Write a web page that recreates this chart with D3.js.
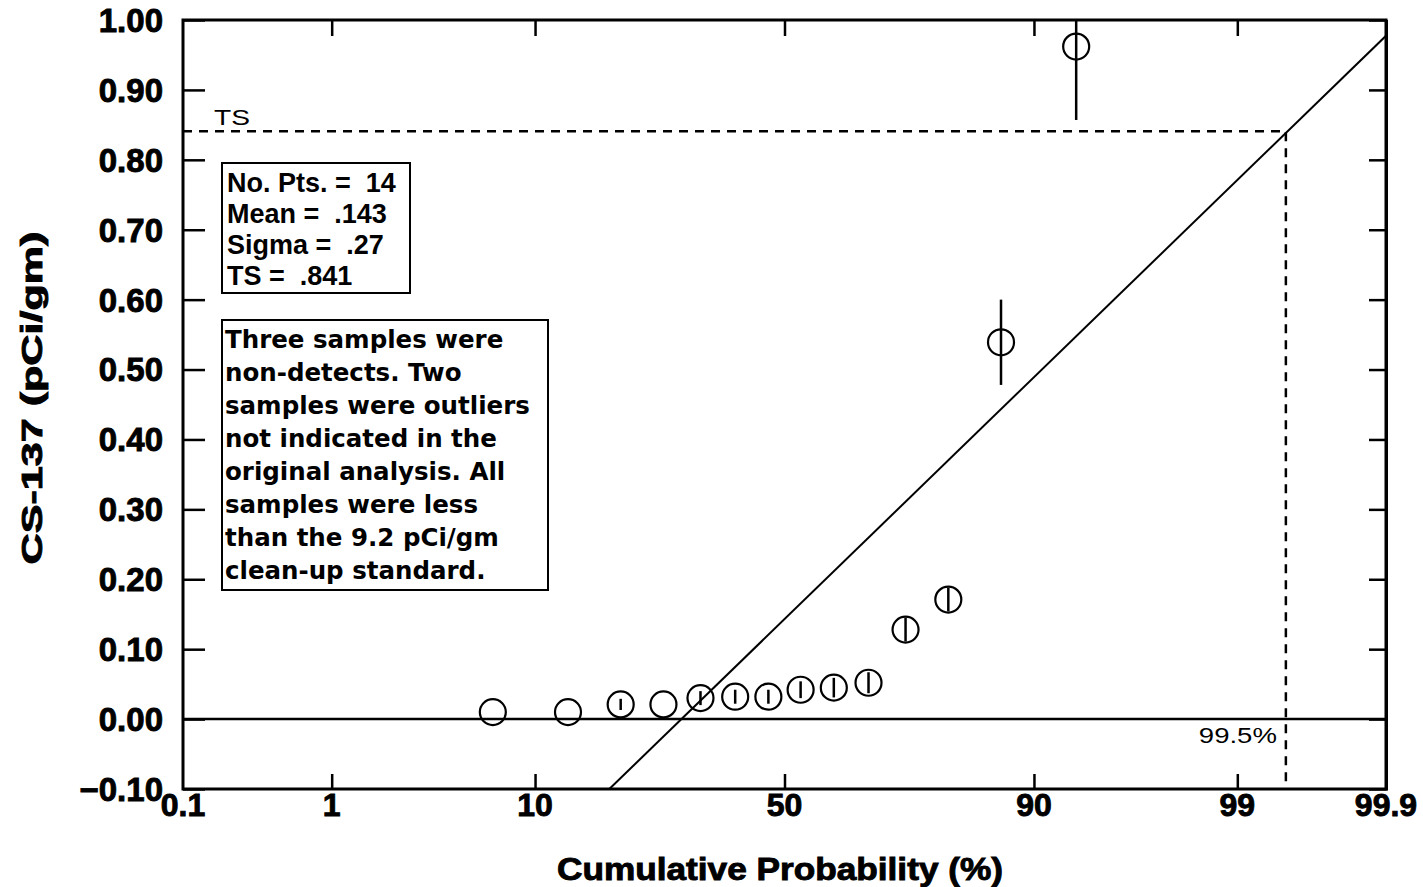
<!DOCTYPE html>
<html>
<head>
<meta charset="utf-8">
<script src="https://cdn.jsdelivr.net/npm/d3@7"></script>
<style>
  body { margin: 0; background: #fff; }
  svg { display: block; }
  text { font-family: "Liberation Sans", Arial, sans-serif; fill: #000; white-space: pre; }
  .heavy { stroke: #000; stroke-width: 0.9px; }
  .boxtext { font-family: "DejaVu Sans", sans-serif; font-weight: bold; }
</style>
</head>
<body>
<svg width="1423" height="887"></svg>
<script>
// cumulative probability (%) of each ranked sample
var probs  = [6.7, 13.3, 20.0, 26.7, 33.3, 40.0, 46.7, 53.3, 60.0, 66.7, 73.3, 80.0, 86.7, 93.3];
// CS-137 concentration (pCi/gm)
var values = [0.010, 0.010, 0.021, 0.021, 0.030, 0.032, 0.032, 0.042, 0.045, 0.052, 0.128, 0.171, 0.539, 0.962];
// counting error (+/-)
var errors = [0, 0, 0.008, 0, 0.010, 0.010, 0.010, 0.012, 0.014, 0.015, 0.017, 0.017, 0.061, 0.105];

var xTicks = [0.1, 1, 10, 50, 90, 99, 99.9];
var yTicks = [-0.1, 0, 0.1, 0.2, 0.3, 0.4, 0.5, 0.6, 0.7, 0.8, 0.9, 1.0];

var fitMean = 0.143, fitSigma = 0.27;
var tsValue = 0.841, tsProb = 99.5;

var statsLines = ["No. Pts. =  14", "Mean =  .143", "Sigma =  .27", "TS =  .841"];
var noteLines = ["Three samples were", "non-detects. Two", "samples were outliers",
                 "not indicated in the", "original analysis. All", "samples were less",
                 "than the 9.2 pCi/gm", "clean-up standard."];

// inverse normal cdf (Acklam)
function probit(p) {
  var a = [-3.969683028665376e+01, 2.209460984245205e+02, -2.759285104469687e+02,
           1.383577518672690e+02, -3.066479806614716e+01, 2.506628277459239e+00];
  var b = [-5.447609879822406e+01, 1.615858368580409e+02, -1.556989798598866e+02,
           6.680131188771972e+01, -1.328068155288572e+01];
  var c = [-7.784894002430293e-03, -3.223964580411365e-01, -2.400758277161838e+00,
           -2.549732539343734e+00, 4.374664141464968e+00, 2.938163982698783e+00];
  var d = [7.784695709041462e-03, 3.224671290700398e-01, 2.445134137142996e+00,
           3.754408661907416e+00];
  var pl = 0.02425, q, r;
  if (p < pl) {
    q = Math.sqrt(-2 * Math.log(p));
    return (((((c[0]*q+c[1])*q+c[2])*q+c[3])*q+c[4])*q+c[5]) / ((((d[0]*q+d[1])*q+d[2])*q+d[3])*q+1);
  } else if (p <= 1 - pl) {
    q = p - 0.5; r = q * q;
    return (((((a[0]*r+a[1])*r+a[2])*r+a[3])*r+a[4])*r+a[5])*q / (((((b[0]*r+b[1])*r+b[2])*r+b[3])*r+b[4])*r+1);
  } else {
    q = Math.sqrt(-2 * Math.log(1 - p));
    return -(((((c[0]*q+c[1])*q+c[2])*q+c[3])*q+c[4])*q+c[5]) / ((((d[0]*q+d[1])*q+d[2])*q+d[3])*q+1);
  }
}

var svg = d3.select("svg");
var plotL = 183, plotR = 1386, plotT = 20, plotB = 789;

var zScale = d3.scaleLinear()
    .domain([probit(0.001), probit(0.999)])
    .range([plotL, plotR]);
function x(pct) { return zScale(probit(pct / 100)); }

var y = d3.scaleLinear().domain([-0.1, 1.0]).range([plotB, plotT]);

svg.append("defs").append("clipPath").attr("id", "plot")
  .append("rect").attr("x", plotL).attr("y", plotT)
  .attr("width", plotR - plotL).attr("height", plotB - plotT);

// axes: ticks inside the frame on all four sides
svg.append("g").attr("transform", "translate(" + plotL + ",0)")
    .call(d3.axisRight(y).tickValues(yTicks).tickSize(22).tickFormat(""))
    .call(function(g) { g.select(".domain").remove(); })
    .selectAll("line").attr("stroke-width", 2.5);

svg.append("g").attr("transform", "translate(" + plotR + ",0)")
    .call(d3.axisLeft(y).tickValues(yTicks).tickSize(17).tickFormat(""))
    .call(function(g) { g.select(".domain").remove(); })
    .selectAll("line").attr("stroke-width", 2.5);

var xInner = xTicks.slice(1, -1).map(function(p) { return probit(p / 100); });

svg.append("g").attr("transform", "translate(0," + plotB + ")")
    .call(d3.axisTop(zScale).tickValues(xInner).tickSize(15).tickFormat(""))
    .call(function(g) { g.select(".domain").remove(); })
    .selectAll("line").attr("stroke-width", 2.5);

svg.append("g").attr("transform", "translate(0," + plotT + ")")
    .call(d3.axisBottom(zScale).tickValues(xInner).tickSize(16).tickFormat(""))
    .call(function(g) { g.select(".domain").remove(); })
    .selectAll("line").attr("stroke-width", 2.5);

// tick labels
svg.append("g").selectAll("text")
    .data(yTicks)
  .enter().append("text")
    .attr("class", "heavy")
    .attr("x", 163)
    .attr("y", function(d) { return y(d); })
    .attr("dy", "0.36em")
    .attr("text-anchor", "end")
    .style("font-size", "33px")
    .style("font-weight", "bold")
    .text(function(d) { return d3.format(".2f")(d); });

svg.append("g").selectAll("text")
    .data(xTicks)
  .enter().append("text")
    .attr("class", "heavy")
    .attr("x", function(d) { return x(d); })
    .attr("y", 816)
    .attr("text-anchor", "middle")
    .style("font-size", "32px")
    .style("font-weight", "bold")
    .text(function(d) { return d; });

// axis titles
svg.append("text")
    .attr("class", "heavy")
    .attr("x", 780).attr("y", 880)
    .attr("text-anchor", "middle")
    .attr("textLength", 446).attr("lengthAdjust", "spacingAndGlyphs")
    .style("font-size", "31px").style("font-weight", "bold")
    .text("Cumulative Probability (%)");

svg.append("text")
    .attr("class", "heavy")
    .attr("transform", "translate(42,398) rotate(-90)")
    .attr("text-anchor", "middle")
    .attr("textLength", 333).attr("lengthAdjust", "spacingAndGlyphs")
    .style("font-size", "29px").style("font-weight", "bold")
    .text("CS-137 (pCi/gm)");

var plot = svg.append("g").attr("clip-path", "url(#plot)");

// zero line
plot.append("line")
    .attr("x1", plotL).attr("x2", plotR)
    .attr("y1", y(0)).attr("y2", y(0))
    .attr("stroke", "#000").attr("stroke-width", 2.5);

// fitted normal line
var fitZ = [(-0.1 - fitMean) / fitSigma, probit(0.999)];
plot.append("line")
    .attr("x1", zScale(fitZ[0])).attr("y1", y(fitMean + fitSigma * fitZ[0]))
    .attr("x2", zScale(fitZ[1])).attr("y2", y(fitMean + fitSigma * fitZ[1]))
    .attr("stroke", "#000").attr("stroke-width", 2);

// TS dashed guide lines
plot.append("path")
    .attr("d", "M" + plotL + "," + y(tsValue) + "H" + x(tsProb) + "V" + plotB)
    .attr("fill", "none").attr("stroke", "#000")
    .attr("stroke-width", 2.5).attr("stroke-dasharray", "9,7");

svg.append("text")
    .attr("x", 214).attr("y", y(tsValue) - 6)
    .style("font-size", "22px")
    .attr("textLength", 36).attr("lengthAdjust", "spacingAndGlyphs")
    .text("TS");

svg.append("text")
    .attr("x", x(tsProb) - 9).attr("y", 743)
    .attr("text-anchor", "end")
    .style("font-size", "22px")
    .attr("textLength", 78).attr("lengthAdjust", "spacingAndGlyphs")
    .text("99.5%");

// data points with error bars
var pts = probs.map(function(p, i) { return { p: p, v: values[i], e: errors[i] }; });

plot.append("g").selectAll("line")
    .data(pts.filter(function(d) { return d.e > 0; }))
  .enter().append("line")
    .attr("x1", function(d) { return x(d.p); })
    .attr("x2", function(d) { return x(d.p); })
    .attr("y1", function(d) { return y(d.v - d.e); })
    .attr("y2", function(d) { return y(d.v + d.e); })
    .attr("stroke", "#000").attr("stroke-width", 2.5);

plot.append("g").selectAll("circle")
    .data(pts)
  .enter().append("circle")
    .attr("cx", function(d) { return x(d.p); })
    .attr("cy", function(d) { return y(d.v); })
    .attr("r", 13)
    .attr("fill", "none").attr("stroke", "#000").attr("stroke-width", 2.2);

// frame
svg.append("rect")
    .attr("x", plotL).attr("y", plotT)
    .attr("width", plotR - plotL).attr("height", plotB - plotT)
    .attr("fill", "none").attr("stroke", "#000").attr("stroke-width", 3);
svg.append("line")
    .attr("x1", plotR + 1).attr("x2", plotR + 1)
    .attr("y1", plotT).attr("y2", plotB + 1.5)
    .attr("stroke", "#000").attr("stroke-width", 2);

// stats box
svg.append("rect")
    .attr("x", 222).attr("y", 163).attr("width", 188).attr("height", 130)
    .attr("fill", "#fff").attr("stroke", "#000").attr("stroke-width", 2);

svg.append("g").selectAll("text")
    .data(statsLines)
  .enter().append("text")
    .attr("x", 227)
    .attr("y", function(d, i) { return 192 + i * 31; })
    .style("font-size", "27px").style("font-weight", "bold")
    .text(function(d) { return d; });

// note box
svg.append("rect")
    .attr("x", 222).attr("y", 320).attr("width", 326).attr("height", 270)
    .attr("fill", "#fff").attr("stroke", "#000").attr("stroke-width", 2);

svg.append("g").selectAll("text")
    .data(noteLines)
  .enter().append("text")
    .attr("class", "boxtext")
    .attr("x", 225)
    .attr("y", function(d, i) { return 348 + i * 33; })
    .style("font-size", "24.5px")
    .text(function(d) { return d; });
</script>
</body>
</html>
